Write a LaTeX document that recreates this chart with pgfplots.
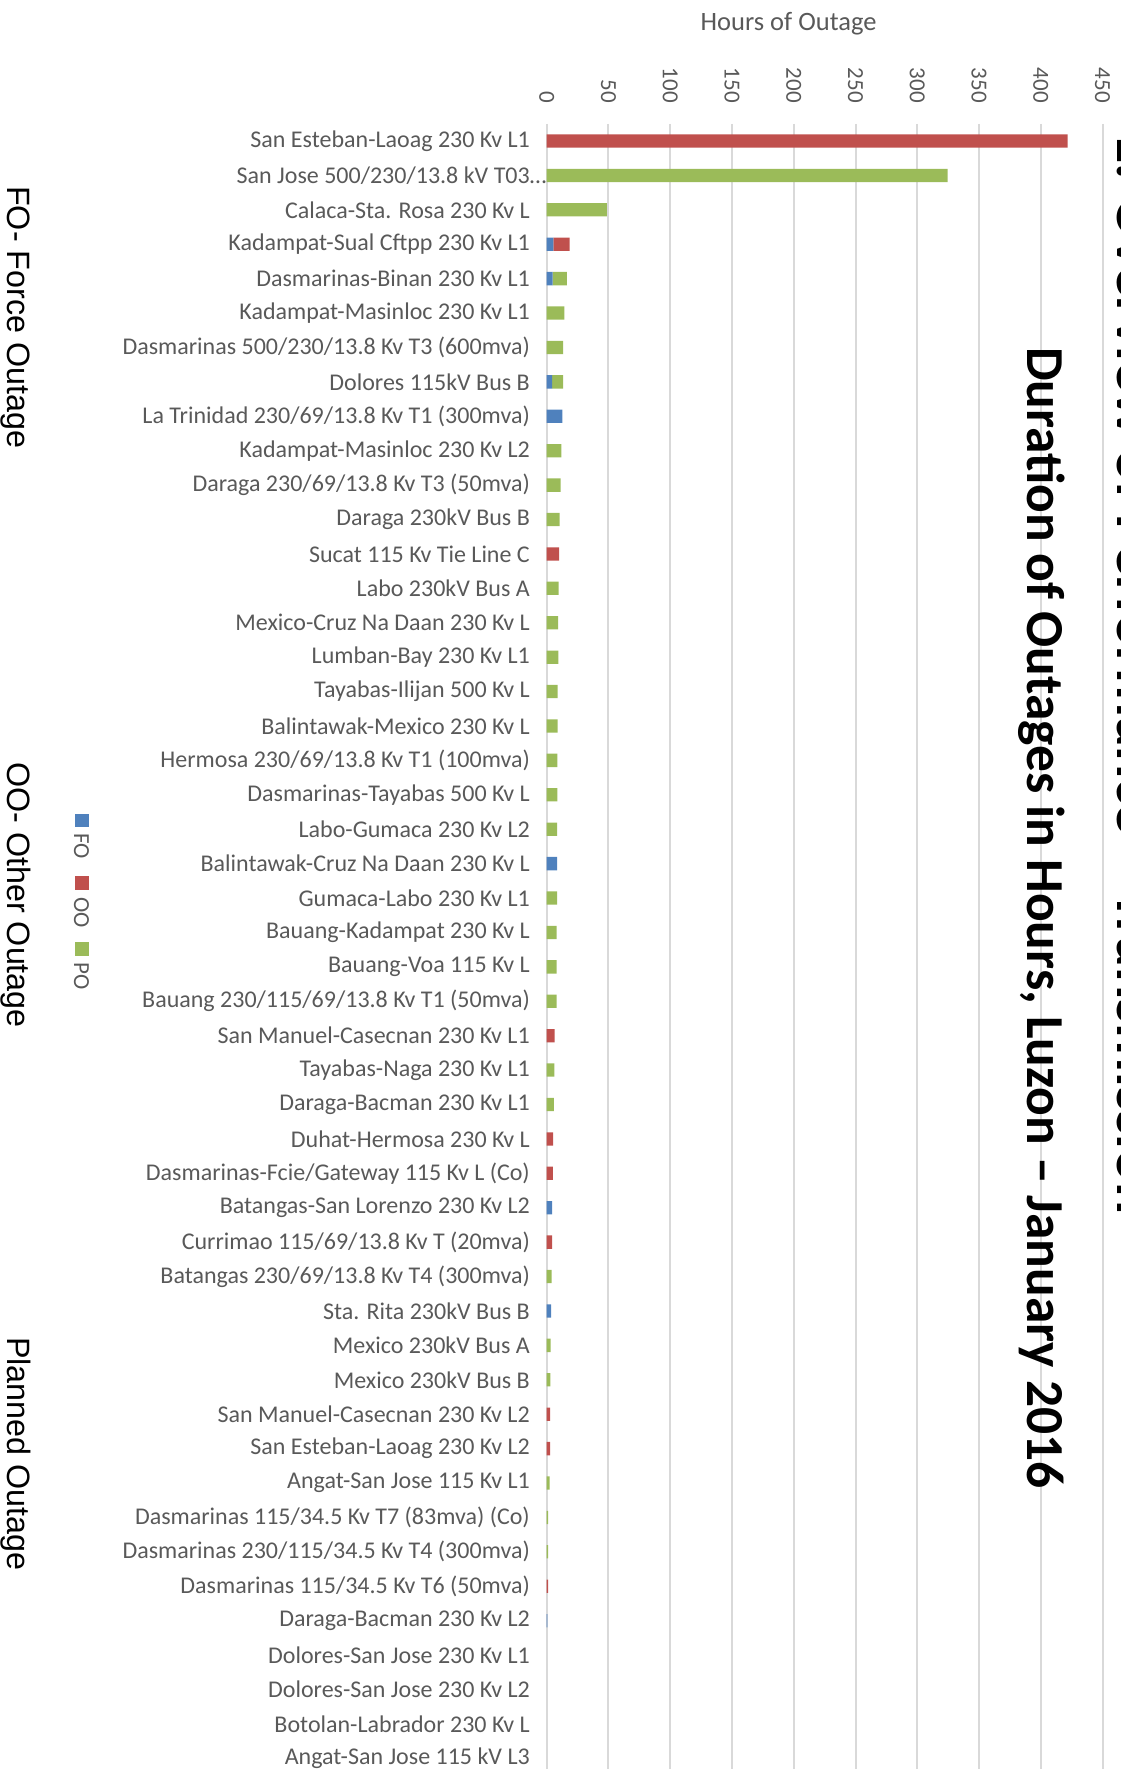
\documentclass[border=0pt]{standalone}
\usepackage{fontspec}
\setmainfont{Carlito}
\newfontfamily\arialfont{Liberation Sans}
\usepackage{pgfplots}
\pgfplotsset{compat=1.18}
\usepackage{pgfplotstable}

\definecolor{foblue}{RGB}{79,129,189}
\definecolor{oored}{RGB}{192,80,77}
\definecolor{pogreen}{RGB}{155,187,89}
\definecolor{txtgray}{RGB}{89,89,89}
\definecolor{gridgray}{RGB}{217,217,217}

% hours of outage per facility, FO / OO / PO
\pgfplotstableread{
row FO OO PO
0 0 421.6 0
1 0 0 324.5
2 0 0 48.8
3 5.4 13.2 0
4 4.8 0 11.6
5 0 0 14.3
6 0 0 13.2
7 4.3 0 8.9
8 12.7 0 0
9 0 0 11.9
10 0 0 11.3
11 0 0 10.5
12 0 10.0 0
13 0 0 9.7
14 0 0 9.2
15 0 0 9.4
16 0 0 8.9
17 0 0 8.9
18 0 0 8.6
19 0 0 8.6
20 0 0 8.4
21 8.4 0 0
22 0 0 8.4
23 0 0 8.1
24 0 0 8.1
25 0 0 8.1
26 0 6.5 0
27 0 0 6.2
28 0 0 5.9
29 0 5.1 0
30 0 4.9 0
31 4.3 0 0
32 0 4.3 0
33 0 0 4.0
34 3.5 0 0
35 0 0 3.2
36 0 0 3.0
37 0 2.8 0
38 0 2.8 0
39 0 0 2.4
40 0 0 1.2
41 0 0 1.2
42 0 1.1 0
43 0.5 0 0
44 0 0 0
45 0 0 0
46 0 0 0
47 0 0 0
}\outages

\begin{document}
\begin{tikzpicture}[x=1pt,y=1pt]
\useasboundingbox (0,0) rectangle (1121,1769);
\clip (0,0) rectangle (1121,1769);
\begin{axis}[
  at={(546.7pt,1645.2pt)}, anchor=north west,
  scale only axis, width=555.9pt, height=1651.7pt,
  xbar stacked, bar width=13.3pt,
  xmin=0, xmax=450, ymin=-0.5, ymax=47.5, y dir=reverse,
  xtick={0,50,...,450}, ytick={0,...,47},
  xticklabel pos=top,
  axis line style={draw=none},
  major tick style={draw=none},
  xmajorgrids, grid style={gridgray, line width=2pt},
  /pgf/number format/assume math mode=true,
  xticklabel style={rotate=-90, anchor=east, inner sep=0pt,
    font=\fontsize{23}{27}\selectfont, text=txtgray},
  xticklabel shift=20.8pt,
  yticklabel style={anchor=east, inner sep=0pt,
    font=\fontsize{24}{28}\selectfont, text=txtgray},
  yticklabel shift=16.7pt,
  yticklabels={
    San Esteban-Laoag 230 Kv L1,
    San Jose 500/230/13.8 kV T03\rlap{…},
    Calaca-Sta. Rosa 230 Kv L,
    Kadampat-Sual Cftpp 230 Kv L1,
    Dasmarinas-Binan 230 Kv L1,
    Kadampat-Masinloc 230 Kv L1,
    Dasmarinas 500/230/13.8 Kv T3 (600mva),
    Dolores 115kV Bus B,
    La Trinidad 230/69/13.8 Kv T1 (300mva),
    Kadampat-Masinloc 230 Kv L2,
    Daraga 230/69/13.8 Kv T3 (50mva),
    Daraga 230kV Bus B,
    Sucat 115 Kv Tie Line C,
    Labo 230kV Bus A,
    Mexico-Cruz Na Daan 230 Kv L,
    Lumban-Bay 230 Kv L1,
    Tayabas-Ilijan 500 Kv L,
    Balintawak-Mexico 230 Kv L,
    Hermosa 230/69/13.8 Kv T1 (100mva),
    Dasmarinas-Tayabas 500 Kv L,
    Labo-Gumaca 230 Kv L2,
    Balintawak-Cruz Na Daan 230 Kv L,
    Gumaca-Labo 230 Kv L1,
    Bauang-Kadampat 230 Kv L,
    Bauang-Voa 115 Kv L,
    Bauang 230/115/69/13.8 Kv T1 (50mva),
    San Manuel-Casecnan 230 Kv L1,
    Tayabas-Naga 230 Kv L1,
    Daraga-Bacman 230 Kv L1,
    Duhat-Hermosa 230 Kv L,
    Dasmarinas-Fcie/Gateway 115 Kv L (Co),
    Batangas-San Lorenzo 230 Kv L2,
    Currimao 115/69/13.8 Kv T (20mva),
    Batangas 230/69/13.8 Kv T4 (300mva),
    Sta. Rita 230kV Bus B,
    Mexico 230kV Bus A,
    Mexico 230kV Bus B,
    San Manuel-Casecnan 230 Kv L2,
    San Esteban-Laoag 230 Kv L2,
    Angat-San Jose 115 Kv L1,
    Dasmarinas 115/34.5 Kv T7 (83mva) (Co),
    Dasmarinas 230/115/34.5 Kv T4 (300mva),
    Dasmarinas 115/34.5 Kv T6 (50mva),
    Daraga-Bacman 230 Kv L2,
    Dolores-San Jose 230 Kv L1,
    Dolores-San Jose 230 Kv L2,
    Botolan-Labrador 230 Kv L,
    Angat-San Jose 115 kV L3},
]
\addplot[fill=foblue, draw=none] table[x=FO, y=row] {\outages};
\addplot[fill=oored, draw=none] table[x=OO, y=row] {\outages};
\addplot[fill=pogreen, draw=none] table[x=PO, y=row] {\outages};
\end{axis}

% axis title
\node[font=\fontsize{26.5}{30}\selectfont, text=txtgray] at (788.6,1745) {Hours of Outage};

% chart title, turned
\node[rotate=-90, anchor=base west, inner sep=0pt, font=\fontsize{53.4}{60}\selectfont\bfseries]
  at (1027,1422) {Duration of Outages in Hours, Luzon – January 2016};
% slide title, cut by the right edge
\node[rotate=-90, anchor=base west, inner sep=0pt, font=\fontsize{60}{66}\selectfont\bfseries]
  at (1117,1636) {1. Overview of Performance – Transmission};

% notes on the left
\node[rotate=-90, anchor=base west, inner sep=0pt, font=\arialfont\fontsize{32.3}{36}\selectfont]
  at (8,1583) {FO- Force Outage};
\node[rotate=-90, anchor=base west, inner sep=0pt, font=\arialfont\fontsize{32.3}{36}\selectfont]
  at (8,1007) {OO- Other Outage};
\node[rotate=-90, anchor=base west, inner sep=0pt, font=\arialfont\fontsize{32.3}{36}\selectfont]
  at (8,432) {Planned Outage};

% legend
\fill[foblue] (75,955) rectangle (89,942);
\fill[oored] (75,893) rectangle (89,879);
\fill[pogreen] (75,827) rectangle (89,813);
\node[rotate=-90, anchor=base west, inner sep=0pt, font=\fontsize{23}{27}\selectfont, text=txtgray]
  at (74,936) {FO};
\node[rotate=-90, anchor=base west, inner sep=0pt, font=\fontsize{23}{27}\selectfont, text=txtgray]
  at (74,872) {OO};
\node[rotate=-90, anchor=base west, inner sep=0pt, font=\fontsize{23}{27}\selectfont, text=txtgray]
  at (74,807) {PO};
\end{tikzpicture}
\end{document}
